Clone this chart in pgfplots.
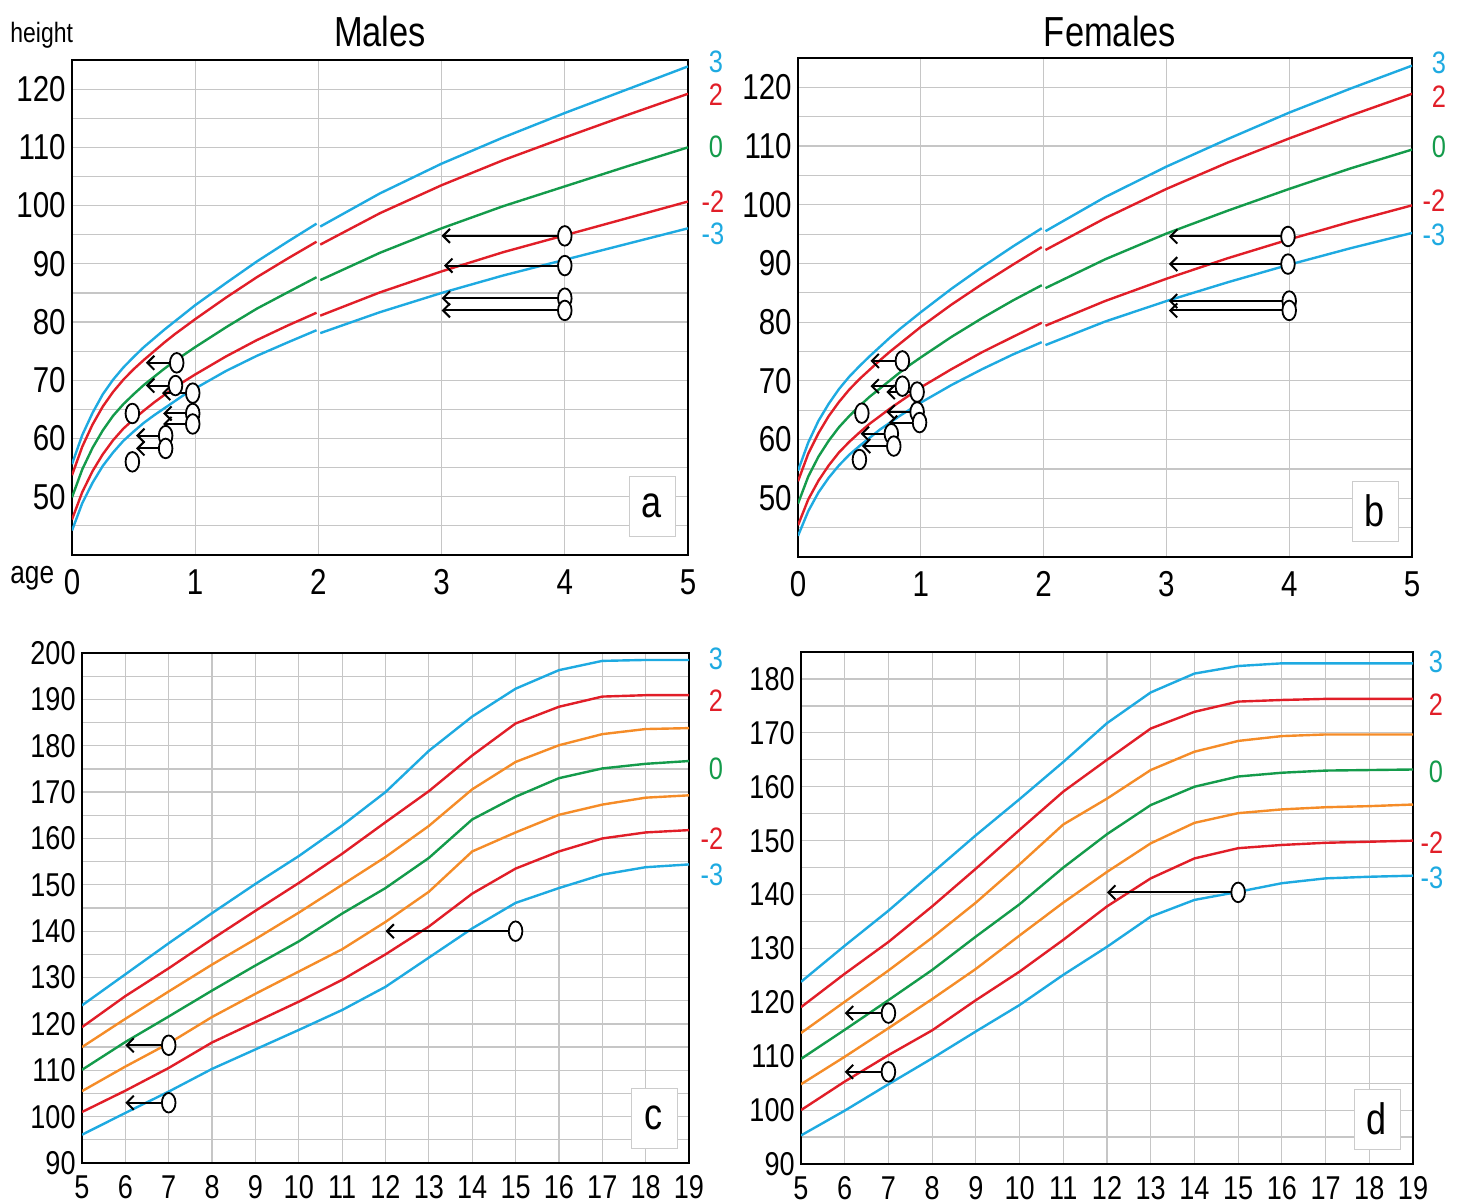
\documentclass[border=0pt]{standalone}
\usepackage{pgfplots}
\pgfplotsset{compat=1.18}
\usepackage{pgfplotstable}
\usetikzlibrary{arrows.meta}
\usepackage{fontspec}
\setmainfont[FakeStretch=0.82]{Liberation Sans}

\definecolor{cblue}{RGB}{30,170,225}
\definecolor{cred}{RGB}{225,30,40}
\definecolor{cgreen}{RGB}{20,155,75}
\definecolor{corange}{RGB}{245,140,40}

\pgfdeclareplotmark{ell}{%
  \pgfpathellipse{\pgfpointorigin}{\pgfqpoint{3.4pt}{0pt}}{\pgfqpoint{0pt}{4.9pt}}%
  \pgfusepathqfillstroke}

% boys 0-5 (length to 2 y, then height)
\pgfplotstableread{
t m3 m2 z p2 p3
0 44.2 46.1 49.9 53.7 55.6
0.0833 48.9 50.8 54.7 58.6 60.6
0.1667 52.4 54.4 58.4 62.4 64.4
0.25 55.3 57.3 61.4 65.5 67.6
0.3333 57.6 59.7 63.9 68.0 70.1
0.4167 59.6 61.7 65.9 70.1 72.2
0.5 61.2 63.3 67.6 71.9 74.0
0.5833 62.7 64.8 69.2 73.5 75.7
0.6667 64.0 66.2 70.6 75.0 77.2
0.75 65.2 67.5 72.0 76.5 78.7
0.8333 66.4 68.7 73.3 77.9 80.1
0.9167 67.6 69.9 74.5 79.2 81.5
1 68.6 71.0 75.7 80.5 82.9
1.25 71.6 74.1 79.1 84.2 86.7
1.5 74.2 76.9 82.3 87.7 90.4
1.75 76.5 79.4 85.1 90.9 93.8
1.985 78.6 81.6 87.7 93.8 96.9
2 nan nan nan nan nan
2.015 78.1 81.1 87.2 93.3 96.4
2.5 81.7 85.1 91.9 98.7 102.1
3 85.0 88.7 96.1 103.5 107.2
3.5 88.0 92.0 99.9 107.8 111.7
4 90.7 94.9 103.3 111.7 115.9
4.5 93.4 97.8 106.7 115.5 119.9
5 96.1 100.7 110.0 119.2 123.9
}\boysA

% girls 0-5
\pgfplotstableread{
t m3 m2 z p2 p3
0 43.6 45.4 49.1 52.9 54.7
0.0833 47.8 49.8 53.7 57.6 59.5
0.1667 51.0 53.0 57.1 61.1 63.2
0.25 53.5 55.6 59.8 64.0 66.1
0.3333 55.6 57.8 62.1 66.4 68.6
0.4167 57.4 59.6 64.0 68.5 70.7
0.5 58.9 61.2 65.7 70.3 72.5
0.5833 60.3 62.7 67.3 71.9 74.2
0.6667 61.7 64.0 68.7 73.5 75.8
0.75 62.9 65.3 70.1 75.0 77.4
0.8333 64.1 66.5 71.5 76.4 78.9
0.9167 65.2 67.7 72.8 77.8 80.3
1 66.3 68.9 74.0 79.2 81.7
1.25 69.3 72.0 77.5 83.0 85.7
1.5 72.0 74.9 80.7 86.5 89.4
1.75 74.5 77.5 83.7 89.8 92.9
1.985 76.6 79.9 86.3 92.8 96.0
2 nan nan nan nan nan
2.015 76.1 79.4 85.8 92.3 95.5
2.5 80.1 83.6 90.7 97.7 101.3
3 83.6 87.4 95.1 102.7 106.5
3.5 86.8 90.9 99.0 107.2 111.2
4 89.8 94.1 102.7 111.3 115.7
4.5 92.6 97.1 106.2 115.2 119.8
5 95.2 99.9 109.4 118.9 123.7
}\girlsB

% boys 5-19
\pgfplotstableread{
t m3 m2 m1 z p1 p2 p3
5 96.1 101.0 105.5 110.1 115.0 119.3 124.0
6 100.8 105.6 110.8 116.1 121.1 126.0 130.7
7 105.4 110.5 115.8 121.6 127.0 132.0 137.4
8 110.3 116.0 121.5 127.2 132.8 138.3 143.9
9 114.5 120.4 126.5 132.6 138.3 144.4 150.2
10 118.7 124.8 131.3 137.8 144.0 150.4 156.2
11 123.0 129.5 136.1 143.8 150.0 156.7 162.8
12 128.0 135.0 142.0 149.3 156.0 163.5 170.0
13 134.3 141.0 148.5 155.8 162.7 170.2 178.9
14 140.6 148.1 157.2 164.1 170.6 177.9 186.3
15 146.1 153.5 161.3 169.0 176.5 184.8 192.3
16 149.3 157.2 165.1 173.0 180.1 188.4 196.3
17 152.2 160.0 167.3 175.1 182.5 190.6 198.3
18 153.8 161.3 168.8 176.1 183.6 190.9 198.5
19 154.4 161.8 169.3 176.7 183.8 190.9 198.5
}\boysC

% girls 5-19
\pgfplotstableread{
t m3 m2 m1 z p1 p2 p3
5 95.3 100.0 104.8 109.5 114.3 119.1 123.8
6 99.9 105.3 109.9 114.9 120.1 125.3 130.5
7 104.8 110.2 115.2 120.4 125.9 131.2 137.0
8 109.6 114.8 120.6 126.0 132.0 137.8 144.0
9 114.6 120.4 126.2 132.2 138.5 144.8 151.0
10 119.5 125.7 132.4 138.2 145.6 152.0 157.7
11 125.1 131.6 138.5 145.0 153.0 159.1 164.6
12 130.3 137.8 144.2 151.2 157.8 165.0 171.8
13 135.9 143.0 149.5 156.6 163.1 170.8 177.5
14 139.0 146.7 153.3 160.0 166.5 173.9 181.0
15 140.5 148.6 155.1 161.9 168.5 175.8 182.4
16 142.1 149.2 155.8 162.6 169.4 176.1 182.9
17 143.0 149.6 156.2 163.0 169.7 176.3 182.9
18 143.3 149.8 156.4 163.1 169.7 176.3 182.9
19 143.5 150.0 156.7 163.2 169.7 176.3 182.9
}\girlsD

% measured children: position and arrow length
\pgfplotstableread{
x y u
0.85 73.0 -0.25
0.84 69.1 -0.24
0.98 67.8 -0.25
0.98 64.3 -0.24
0.98 62.5 -0.24
0.76 60.5 -0.24
0.76 58.3 -0.24
4.0 94.8 -1.0
4.0 89.7 -0.98
4.0 84.1 -1.0
4.0 82.0 -1.0
}\arrA
\pgfplotstableread{
x y
0.49 64.3
0.49 56.0
}\dotA
\pgfplotstableread{
x y u
0.85 73.4 -0.26
0.85 69.1 -0.26
0.97 68.1 -0.25
0.97 64.7 -0.25
0.99 62.9 -0.25
0.76 61.0 -0.25
0.78 58.9 -0.26
3.99 94.6 -0.97
3.99 89.9 -0.97
4.0 83.6 -0.98
4.0 82.0 -0.98
}\arrB
\pgfplotstableread{
x y
0.52 64.5
0.50 56.6
}\dotB
\pgfplotstableread{
x y u
7 115.4 -1
7 103.0 -1
15 140.0 -3
}\arrC
\pgfplotstableread{
x y u
7 118.0 -1
7 107.1 -1
15 140.4 -3
}\arrD

\pgfplotsset{
  panel/.style={
    scale only axis, anchor=south west,
    axis line style={black, line width=1.4pt},
    grid=both,
    major grid style={gray!45, line width=0.6pt},
    minor grid style={gray!45, line width=0.6pt},
    major tick length=0pt, minor tick length=0pt,
    tick label style={font=\fontsize{18}{18}\selectfont},
    xticklabel style={inner sep=2pt, yshift=-5pt},
    yticklabel style={inner sep=3pt},
    /pgf/number format/assume math mode=true,
    unbounded coords=jump,
  },
  lower/.style={
    tick label style={font=\fontsize{16.5}{16.5}\selectfont},
    xticklabel style={inner sep=2pt, yshift=1pt},
  },
  cb/.style={cblue, line width=1.2pt},
  cr/.style={cred, line width=1.2pt},
  cg/.style={cgreen, line width=1.2pt},
  co/.style={corange, line width=1.2pt},
  arr/.style={black, line width=1pt, -{Straight Barb[length=3.5pt,width=7pt]},
    quiver={u=\thisrow{u}, v=0}},
  dots/.style={only marks, mark=ell, mark options={draw=black, fill=white, line width=0.9pt}},
}

\newcommand{\lab}[1]{\fontsize{#1}{#1}\selectfont}

\begin{document}
\begin{tikzpicture}
\useasboundingbox (0,0) rectangle (731.5pt,-602pt);

% a: males 0-5
\begin{axis}[panel, at={(36pt,-277.5pt)}, width=308pt, height=247.5pt,
  xmin=0, xmax=5, ymin=40, ymax=125,
  xtick={0,...,5}, ytick={50,60,...,120}, minor ytick={45,55,...,115}]
\addplot[cb] table[x=t,y=m3]{\boysA};
\addplot[cr] table[x=t,y=m2]{\boysA};
\addplot[cg] table[x=t,y=z]{\boysA};
\addplot[cr] table[x=t,y=p2]{\boysA};
\addplot[cb] table[x=t,y=p3]{\boysA};
\addplot[arr] table[x=x,y=y]{\arrA};
\addplot[dots] table[x=x,y=y]{\arrA};
\addplot[dots] table[x=x,y=y]{\dotA};
\end{axis}

% b: females 0-5
\begin{axis}[panel, at={(399pt,-278.5pt)}, width=307pt, height=249.5pt,
  xmin=0, xmax=5, ymin=40, ymax=125,
  xtick={0,...,5}, ytick={50,60,...,120}, minor ytick={45,55,...,115}]
\addplot[cb] table[x=t,y=m3]{\girlsB};
\addplot[cr] table[x=t,y=m2]{\girlsB};
\addplot[cg] table[x=t,y=z]{\girlsB};
\addplot[cr] table[x=t,y=p2]{\girlsB};
\addplot[cb] table[x=t,y=p3]{\girlsB};
\addplot[arr] table[x=x,y=y]{\arrB};
\addplot[dots] table[x=x,y=y]{\arrB};
\addplot[dots] table[x=x,y=y]{\dotB};
\end{axis}

% c: males 5-19
\begin{axis}[panel, lower, at={(41pt,-581.5pt)}, width=303.5pt, height=255pt,
  xmin=5, xmax=19, ymin=90, ymax=200,
  xtick={5,...,19}, ytick={90,100,...,200}, minor ytick={95,105,...,195}]
\addplot[cb] table[x=t,y=m3]{\boysC};
\addplot[cr] table[x=t,y=m2]{\boysC};
\addplot[co] table[x=t,y=m1]{\boysC};
\addplot[cg] table[x=t,y=z]{\boysC};
\addplot[co] table[x=t,y=p1]{\boysC};
\addplot[cr] table[x=t,y=p2]{\boysC};
\addplot[cb] table[x=t,y=p3]{\boysC};
\addplot[arr] table[x=x,y=y]{\arrC};
\addplot[dots] table[x=x,y=y]{\arrC};
\end{axis}

% d: females 5-19
\begin{axis}[panel, lower, at={(400.5pt,-582pt)}, width=306pt, height=256pt,
  xmin=5, xmax=19, ymin=90, ymax=185,
  xtick={5,...,19}, ytick={90,100,...,180}, minor ytick={95,105,...,185}]
\addplot[cb] table[x=t,y=m3]{\girlsD};
\addplot[cr] table[x=t,y=m2]{\girlsD};
\addplot[co] table[x=t,y=m1]{\girlsD};
\addplot[cg] table[x=t,y=z]{\girlsD};
\addplot[co] table[x=t,y=p1]{\girlsD};
\addplot[cr] table[x=t,y=p2]{\girlsD};
\addplot[cb] table[x=t,y=p3]{\girlsD};
\addplot[arr] table[x=x,y=y]{\arrD};
\addplot[dots] table[x=x,y=y]{\arrD};
\end{axis}

% titles and axis words
\node[font=\lab{21}] at (190pt,-15.5pt) {Males};
\node[font=\lab{21}] at (555pt,-15.5pt) {Females};
\node[font=\lab{14}, anchor=west, inner sep=0pt] at (5pt,-17.5pt) {height};
\node[font=\lab{16}, anchor=west, inner sep=0pt] at (5pt,-289pt) {age};

% z-score labels
\begin{scope}[every node/.style={font=\lab{15.5}, inner sep=0pt}]
\node[cblue]  at (358pt,-31pt) {3};
\node[cred]   at (358pt,-47.5pt) {2};
\node[cgreen] at (358pt,-73.5pt) {0};
\node[cred]   at (356.5pt,-101pt) {-2};
\node[cblue]  at (356.5pt,-117pt) {-3};
\node[cblue]  at (719.5pt,-31.5pt) {3};
\node[cred]   at (719.5pt,-48.5pt) {2};
\node[cgreen] at (719.5pt,-73.5pt) {0};
\node[cred]   at (717pt,-100.5pt) {-2};
\node[cblue]  at (717pt,-117.5pt) {-3};
\node[cblue]  at (358pt,-329.5pt) {3};
\node[cred]   at (358pt,-350.5pt) {2};
\node[cgreen] at (358pt,-384.5pt) {0};
\node[cred]   at (356pt,-419.5pt) {-2};
\node[cblue]  at (356pt,-437.5pt) {-3};
\node[cblue]  at (718pt,-331pt) {3};
\node[cred]   at (718pt,-352.5pt) {2};
\node[cgreen] at (718pt,-386pt) {0};
\node[cred]   at (716pt,-421.5pt) {-2};
\node[cblue]  at (716pt,-439pt) {-3};
\end{scope}

% panel letters
\begin{scope}[every node/.style={draw=gray!40, line width=0.5pt, fill=white,
  minimum width=23pt, minimum height=30pt, inner sep=0pt, font=\lab{22}}]
\node at (326pt,-253pt) {a};
\node at (687.5pt,-255.5pt) {b};
\node at (327pt,-559pt) {c};
\node at (688.5pt,-559.5pt) {d};
\end{scope}
\end{tikzpicture}
\end{document}
